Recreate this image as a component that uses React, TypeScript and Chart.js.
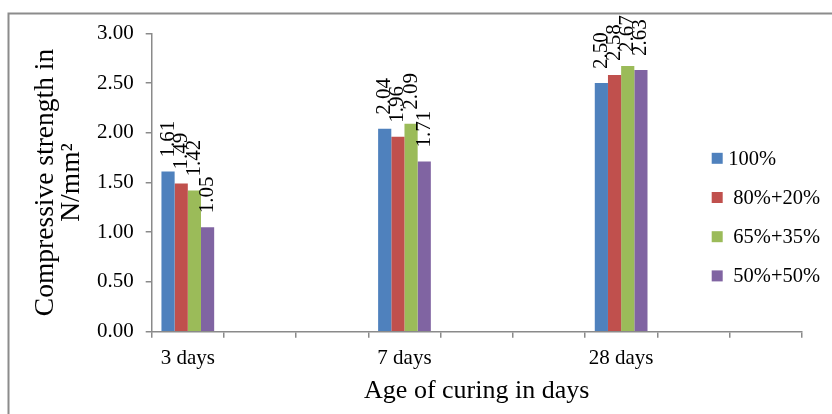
import React, { useEffect, useRef } from "react";
import { Chart, registerables } from "chart.js";

Chart.register(...registerables);

// Curing ages shown on the category axis (each followed by two empty slots)
const ages = ["3 days", "7 days", "28 days"];
const spacerSlots = 2;

// Mix proportions (legend entries)
const mixNames = ["100%", " 80%+20%", " 65%+35%", " 50%+50%"];
const mixColors = ["#4F81BD", "#C0504D", "#9BBB59", "#8064A2"];

// Compressive strength in N/mm² for each mix, at 3, 7 and 28 days
const mix100 = [1.61, 2.04, 2.5];
const mix80_20 = [1.49, 1.96, 2.58];
const mix65_35 = [1.42, 2.09, 2.67];
const mix50_50 = [1.05, 1.71, 2.63];

const yTicks = [0, 0.5, 1, 1.5, 2, 2.5, 3];

const FONT = "'Liberation Serif', 'Times New Roman', serif";
const AXIS_GREY = "#8a8a8a";

const expandLabels = (labels: string[]) =>
  labels.flatMap((l) => [l, ...Array(spacerSlots).fill("")]);
const expandValues = (vals: number[]) =>
  vals.flatMap((v) => [v, ...Array(spacerSlots).fill(null)]);

const frame = {
  id: "frame",
  beforeDraw(chart: any) {
    const ctx = chart.ctx;
    ctx.save();
    ctx.strokeStyle = "#8c8c8c";
    ctx.lineWidth = 2;
    ctx.beginPath();
    ctx.moveTo(8.5, chart.height + 2);
    ctx.lineTo(8.5, 13.5);
    ctx.lineTo(chart.width + 2, 13.5);
    ctx.stroke();
    ctx.restore();
  },
};

const valueLabels = {
  id: "valueLabels",
  afterDatasetsDraw(chart: any) {
    const ctx = chart.ctx;
    ctx.save();
    ctx.font = `21px ${FONT}`;
    ctx.fillStyle = "#000";
    ctx.textAlign = "left";
    ctx.textBaseline = "middle";
    chart.data.datasets.forEach((ds: any, i: number) => {
      const meta = chart.getDatasetMeta(i);
      meta.data.forEach((bar: any, j: number) => {
        const v = ds.data[j];
        if (v === null || v === undefined) return;
        ctx.save();
        ctx.translate(bar.x, bar.y - 14);
        ctx.rotate(-Math.PI / 2);
        ctx.fillText(v.toFixed(2), 0, 0);
        ctx.restore();
      });
    });
    ctx.restore();
  },
};

const sideLegend = {
  id: "sideLegend",
  afterDraw(chart: any) {
    const ctx = chart.ctx;
    ctx.save();
    ctx.font = `20.5px ${FONT}`;
    ctx.textBaseline = "middle";
    ctx.textAlign = "left";
    const x0 = 711.7;
    const y0 = 158.3;
    const gap = 39.2;
    chart.data.datasets.forEach((ds: any, i: number) => {
      const cy = y0 + i * gap;
      ctx.fillStyle = ds.backgroundColor;
      ctx.fillRect(x0, cy - 5.5, 11, 11);
      ctx.fillStyle = "#000";
      ctx.fillText(ds.label, x0 + 16.5, cy + 1);
    });
    ctx.restore();
  },
};

export default function App() {
  const ref = useRef<HTMLCanvasElement | null>(null);

  useEffect(() => {
    if (!ref.current) return;
    const series = [mix100, mix80_20, mix65_35, mix50_50];
    const chart = new Chart(ref.current, {
      type: "bar",
      data: {
        labels: expandLabels(ages),
        datasets: series.map((vals, i) => ({
          label: mixNames[i],
          data: expandValues(vals),
          backgroundColor: mixColors[i],
          borderWidth: 0,
          categoryPercentage: 0.73,
          barPercentage: 1.0,
        })),
      },
      options: {
        animation: false,
        responsive: false,
        devicePixelRatio: 1,
        layout: { padding: { top: 33.3, right: 30.3, left: 0, bottom: 0 } },
        plugins: {
          legend: { display: false },
          tooltip: { enabled: false },
        },
        scales: {
          x: {
            afterFit: (s: any) => {
              s.height = 82.3;
            },
            grid: {
              display: true,
              drawOnChartArea: false,
              drawTicks: true,
              tickLength: 6,
              offset: true,
              color: AXIS_GREY,
              lineWidth: 1.5,
            },
            border: { display: true, color: AXIS_GREY, width: 1.5 },
            ticks: {
              autoSkip: false,
              maxRotation: 0,
              padding: 8,
              color: "#000",
              font: { family: FONT, size: 21 },
            },
            title: {
              display: true,
              text: "Age of curing in days",
              color: "#000",
              font: { family: FONT, size: 26, lineHeight: 1 },
              padding: { top: 0, bottom: 10 },
            },
          },
          y: {
            min: 0,
            max: 3,
            afterFit: (s: any) => {
              s.width = 151.7;
            },
            afterBuildTicks: (s: any) => {
              s.ticks = yTicks.map((v) => ({ value: v }));
            },
            grid: {
              display: true,
              drawOnChartArea: false,
              drawTicks: true,
              tickLength: 6,
              color: AXIS_GREY,
              lineWidth: 1.5,
            },
            border: { display: true, color: AXIS_GREY, width: 1.5 },
            ticks: {
              padding: 12,
              color: "#000",
              font: { family: FONT, size: 21 },
              callback: (v: any) => Number(v).toFixed(2),
            },
            title: {
              display: true,
              text: ["Compressive strength in", "N/mm²"],
              color: "#000",
              font: { family: FONT, size: 27.5, lineHeight: 0.95 },
              padding: { top: 33, bottom: 0 },
            },
          },
        },
      },
      plugins: [frame, valueLabels, sideLegend],
    });
    return () => chart.destroy();
  }, []);

  return (
    <div style={{ position: "fixed", left: 0, top: 0, width: 832, height: 414, background: "#fff" }}>
      <canvas ref={ref} width={832} height={414} style={{ display: "block" }} />
    </div>
  );
}
